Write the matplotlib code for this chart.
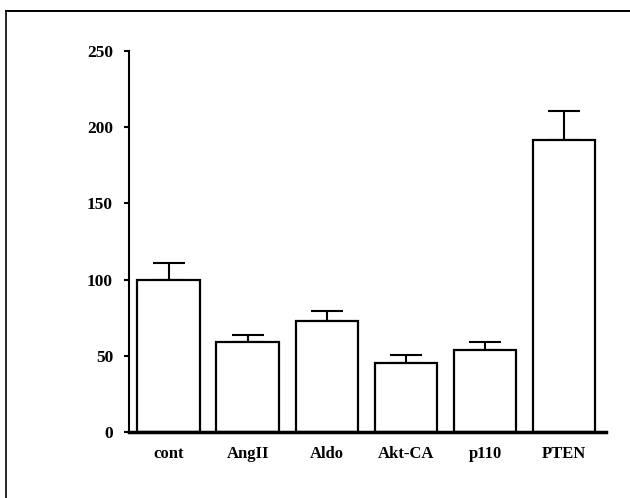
import matplotlib
matplotlib.use("Agg")
import matplotlib.pyplot as plt
from matplotlib.lines import Line2D

categories = ["cont", "AngII", "Aldo", "Akt-CA", "p110", "PTEN"]
values = [100, 59, 73, 45.5, 54, 191.5]
errors = [10.6, 4.6, 6.5, 4.8, 5.2, 19]
yticks = [0, 50, 100, 150, 200, 250]

W, H = 630, 498
fig = plt.figure(figsize=(W / 100, H / 100), dpi=100)
fig.patch.set_facecolor("white")

# outer border (left and top edges visible in the crop)
top_y = 1 - 10.7 / H
left_x = 6 / W
fig.add_artist(Line2D([left_x, left_x], [-0.01, top_y], transform=fig.transFigure,
                      color="black", linewidth=1.2))
fig.add_artist(Line2D([left_x, 1.01], [top_y, top_y], transform=fig.transFigure,
                      color="black", linewidth=1.4))

ax = fig.add_axes([129 / W, (H - 432) / H, (606 - 129) / W, (432 - 51) / H])
x = list(range(len(categories)))

ax.errorbar(x, values, yerr=[[0] * len(values), errors], fmt="none",
            ecolor="black", elinewidth=1.5, capsize=11.5, capthick=1.5, zorder=1)
ax.bar(x, values, width=0.79, color="white", edgecolor="black",
       linewidth=1.6, zorder=2)

ax.set_xlim(-0.5, 5.53)
ax.set_ylim(0, 250)
ax.set_yticks(yticks)
ax.set_yticklabels([str(t) for t in yticks])
ax.set_xticks(x)
ax.set_xticklabels(categories)

for s in ["top", "right"]:
    ax.spines[s].set_visible(False)
ax.spines["left"].set_linewidth(1.5)
ax.spines["bottom"].set_linewidth(2.5)
ax.spines["bottom"].set_zorder(3)

ax.tick_params(axis="y", direction="out", length=3.5, width=1.5, pad=8)
ax.tick_params(axis="x", length=0, pad=10)
for lab in ax.get_yticklabels():
    lab.set_fontfamily("Liberation Serif")
    lab.set_fontweight("bold")
    lab.set_fontsize(12.5)
for lab in ax.get_xticklabels():
    lab.set_fontfamily("Liberation Serif")
    lab.set_fontweight("bold")
    lab.set_fontsize(12)

fig.savefig("out.png", dpi=100, facecolor="white")
